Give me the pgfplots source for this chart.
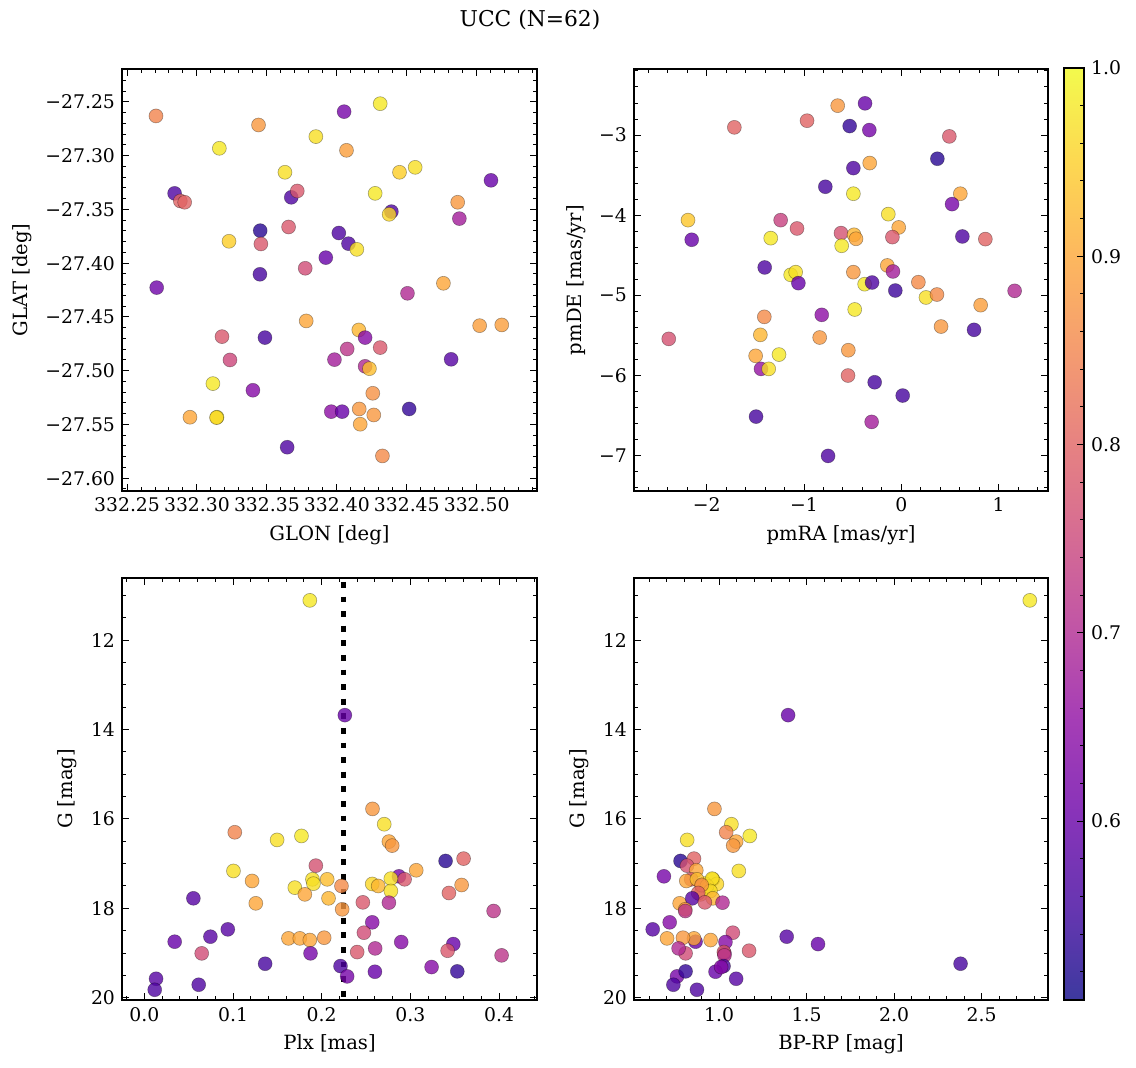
\documentclass[border=0pt]{standalone}
\usepackage{fontspec}
\setmainfont{DejaVu Serif}
\usepackage{pgfplots}
\usepackage{pgfplotstable}
\pgfplotsset{compat=1.18}

\pgfplotsset{
  colormap={plasma}{rgb255=(13,8,135) rgb255=(65,4,157) rgb255=(106,0,168) rgb255=(143,13,164) rgb255=(177,42,144) rgb255=(204,71,120) rgb255=(225,100,98) rgb255=(242,132,75) rgb255=(252,166,54) rgb255=(252,206,37) rgb255=(240,249,33)},
  colormap={plasmaA}{rgb255=(61,57,159) rgb255=(103,54,177) rgb255=(136,51,185) rgb255=(165,61,182) rgb255=(193,85,166) rgb255=(214,108,147) rgb255=(231,131,129) rgb255=(245,157,111) rgb255=(253,184,94) rgb255=(253,216,81) rgb255=(243,250,77)},
  panel/.style={scale only axis, width=207.5pt, height=211pt, anchor=south west,
    tick align=inside, xtick pos=both, ytick pos=both, xticklabel pos=lower, yticklabel pos=left,
    major tick length=3.5pt, minor tick length=2pt,
    axis line style={line width=0.6pt}, every tick/.style={black, line width=0.5pt},
    point meta min=0.505, point meta max=1, colormap name=plasma,
    tick label style={font=\fontsize{9.4}{11}\selectfont},
    label style={font=\fontsize{9.8}{11.5}\selectfont},
    clip=false},
  scat/.style={scatter, only marks, mark=*, mark size=3.5pt, scatter src=explicit,
    scatter/use mapped color={draw=black, fill=mapped color},
    mark options={line width=0.3pt, draw opacity=0.35, fill opacity=0.8}},
}

\pgfplotstableread{
x y p
332.2707 -27.2630 0.85
332.4052 -27.2590 0.62
332.4310 -27.2516 0.98
332.3440 -27.2714 0.88
332.3160 -27.2931 0.98
332.3850 -27.2822 0.97
332.4069 -27.2950 0.89
332.3629 -27.3154 0.97
332.4448 -27.3154 0.95
332.4560 -27.3108 0.97
332.5102 -27.3229 0.60
332.2840 -27.3350 0.57
332.2881 -27.3421 0.80
332.2912 -27.3433 0.80
332.3674 -27.3387 0.57
332.3717 -27.3328 0.78
332.4274 -27.3350 0.98
332.4390 -27.3520 0.57
332.4374 -27.3545 0.96
332.4864 -27.3433 0.88
332.4876 -27.3585 0.68
332.3452 -27.3697 0.53
332.3655 -27.3663 0.78
332.3229 -27.3796 0.95
332.3457 -27.3821 0.78
332.4014 -27.3719 0.57
332.4083 -27.3818 0.57
332.4143 -27.3871 0.97
332.3921 -27.3948 0.60
332.3774 -27.4047 0.76
332.3450 -27.4103 0.56
332.2712 -27.4227 0.61
332.4505 -27.4280 0.70
332.4762 -27.4187 0.90
332.3781 -27.4537 0.90
332.4157 -27.4621 0.92
332.4202 -27.4692 0.64
332.5021 -27.4581 0.89
332.5179 -27.4574 0.89
332.3179 -27.4683 0.78
332.3486 -27.4692 0.56
332.4074 -27.4798 0.72
332.4310 -27.4785 0.78
332.3236 -27.4900 0.75
332.3983 -27.4897 0.68
332.4817 -27.4894 0.58
332.4202 -27.4959 0.70
332.4233 -27.4981 0.93
332.3114 -27.5120 0.98
332.3400 -27.5182 0.64
332.4257 -27.5210 0.87
332.2950 -27.5433 0.90
332.3143 -27.5433 0.99
332.3140 -27.5436 0.96
332.3960 -27.5381 0.65
332.4038 -27.5381 0.60
332.4160 -27.5356 0.88
332.4264 -27.5412 0.88
332.4517 -27.5356 0.54
332.4167 -27.5498 0.90
332.3645 -27.5712 0.57
332.4326 -27.5793 0.86
}\tabA

\pgfplotstableread{
x y p
-0.654 -2.633 0.88
-0.373 -2.604 0.60
-1.716 -2.904 0.80
-0.969 -2.821 0.80
-0.531 -2.888 0.54
-0.329 -2.938 0.62
0.493 -3.017 0.78
0.370 -3.296 0.53
-0.325 -3.350 0.90
-0.493 -3.413 0.57
-0.781 -3.646 0.56
-0.493 -3.733 0.98
0.606 -3.733 0.90
0.521 -3.863 0.62
-2.192 -4.063 0.94
-2.154 -4.308 0.60
-1.240 -4.063 0.74
-1.072 -4.167 0.78
-1.342 -4.288 0.98
-0.620 -4.225 0.77
-0.486 -4.246 0.92
-0.466 -4.296 0.90
-0.613 -4.383 0.98
-0.134 -3.988 0.97
-0.027 -4.154 0.90
-0.092 -4.275 0.78
0.627 -4.267 0.57
0.863 -4.300 0.80
-1.404 -4.654 0.57
-1.137 -4.746 0.98
-1.086 -4.713 0.97
-1.058 -4.850 0.60
-0.493 -4.713 0.88
-0.144 -4.629 0.90
-0.086 -4.704 0.68
-0.377 -4.863 0.98
-0.301 -4.842 0.57
-0.062 -4.942 0.55
0.175 -4.838 0.86
0.253 -5.029 0.97
0.366 -4.992 0.86
1.164 -4.946 0.70
0.815 -5.125 0.89
-0.479 -5.179 0.98
-0.818 -5.246 0.65
-1.408 -5.271 0.86
-2.390 -5.546 0.77
-1.449 -5.496 0.92
0.408 -5.392 0.88
0.747 -5.433 0.56
-0.839 -5.529 0.88
-1.497 -5.758 0.90
-1.257 -5.742 0.98
-0.545 -5.688 0.88
-1.442 -5.921 0.66
-1.363 -5.921 0.97
-0.548 -6.004 0.80
-0.274 -6.088 0.56
0.014 -6.254 0.56
-1.493 -6.517 0.56
-0.305 -6.583 0.68
-0.753 -7.008 0.57
}\tabB

\pgfplotstableread{
plx G bprp p
0.1866 11.112 2.776 0.98
0.2261 13.679 1.394 0.60
0.2573 15.776 0.973 0.88
0.2705 16.119 1.070 0.97
0.1020 16.299 1.040 0.85
0.1497 16.470 0.817 0.97
0.1772 16.381 1.175 0.98
0.2758 16.507 1.097 0.90
0.2795 16.597 1.080 0.88
0.3397 16.940 0.779 0.53
0.3600 16.888 0.856 0.80
0.1934 17.045 0.816 0.77
0.1005 17.164 1.112 0.97
0.3066 17.149 0.869 0.90
0.2871 17.284 0.684 0.62
0.2935 17.351 0.840 0.78
0.1215 17.388 0.812 0.90
0.1896 17.351 0.964 0.97
0.1907 17.448 0.918 0.97
0.2062 17.351 0.873 0.93
0.2223 17.500 0.900 0.86
0.1697 17.537 0.941 0.97
0.1810 17.687 0.894 0.90
0.2570 17.455 0.987 0.96
0.2637 17.500 0.930 0.92
0.2780 17.336 0.960 0.97
0.2780 17.612 0.950 0.97
0.3578 17.478 0.900 0.88
0.3435 17.657 0.880 0.80
0.2077 17.776 0.964 0.92
0.1257 17.888 0.774 0.90
0.0553 17.776 0.846 0.58
0.2464 17.866 0.918 0.78
0.2758 17.873 1.019 0.70
0.2231 18.022 0.806 0.88
0.3939 18.060 0.806 0.72
0.2570 18.313 0.717 0.64
0.2476 18.545 1.078 0.76
0.0941 18.470 0.620 0.58
0.0745 18.634 1.386 0.58
0.0342 18.746 0.865 0.60
0.1625 18.672 0.702 0.90
0.1753 18.672 0.856 0.90
0.1866 18.709 0.951 0.90
0.2028 18.657 0.793 0.88
0.2897 18.754 1.036 0.64
0.3484 18.799 1.565 0.60
0.0647 19.007 0.808 0.76
0.1874 19.007 1.030 0.62
0.2400 18.978 1.027 0.78
0.2603 18.896 0.768 0.70
0.3420 18.948 1.171 0.78
0.4029 19.052 1.030 0.72
0.1362 19.239 2.380 0.56
0.2212 19.291 1.025 0.57
0.2287 19.522 0.759 0.62
0.2600 19.418 0.979 0.60
0.3239 19.313 1.011 0.64
0.3529 19.410 0.808 0.54
0.0132 19.575 1.097 0.58
0.0613 19.709 0.738 0.57
0.0117 19.821 0.873 0.57
}\tabC

\begin{document}
\begin{tikzpicture}
\useasboundingbox (0,0) rectangle (568pt,534pt);
\node[font=\fontsize{10.9}{13}\selectfont] at (265pt,524pt) {UCC (N=62)};

% Panel 1
\begin{axis}[panel, at={(61pt,288.5pt)},
  xmin=332.2464, xmax=332.5431, ymin=-27.6119, ymax=-27.2193,
  xtick={332.25,332.30,332.35,332.40,332.45,332.50},
  xticklabels={332.25,332.30,332.35,332.40,332.45,332.50},
  ytick={-27.60,-27.55,-27.50,-27.45,-27.40,-27.35,-27.30,-27.25},
  yticklabels={−27.60,−27.55,−27.50,−27.45,−27.40,−27.35,−27.30,−27.25},
  minor xtick={332.26,332.27,332.28,332.29,332.31,332.32,332.33,332.34,332.36,332.37,332.38,332.39,332.41,332.42,332.43,332.44,332.46,332.47,332.48,332.49,332.51,332.52,332.53,332.54},
  minor ytick={-27.61,-27.59,-27.58,-27.57,-27.56,-27.54,-27.53,-27.52,-27.51,-27.49,-27.48,-27.47,-27.46,-27.44,-27.43,-27.42,-27.41,-27.39,-27.38,-27.37,-27.36,-27.34,-27.33,-27.32,-27.31,-27.29,-27.28,-27.27,-27.26,-27.24,-27.23,-27.22},
  xlabel={GLON [deg]}, ylabel={GLAT [deg]}]
\addplot[scat] table[x=x, y=y, meta=p] {\tabA};
\end{axis}

% Panel 2
\begin{axis}[panel, at={(317pt,288.5pt)}, width=207pt,
  xmin=-2.747, xmax=1.507, ymin=-7.446, ymax=-2.175,
  xtick={-2,-1,0,1}, xticklabels={−2,−1,0,1},
  ytick={-7,-6,-5,-4,-3}, yticklabels={−7,−6,−5,−4,−3},
  minor xtick={-2.6,-2.4,-2.2,-1.8,-1.6,-1.4,-1.2,-0.8,-0.6,-0.4,-0.2,0.2,0.4,0.6,0.8,1.2,1.4},
  minor ytick={-7.4,-7.2,-6.8,-6.6,-6.4,-6.2,-5.8,-5.6,-5.4,-5.2,-4.8,-4.6,-4.4,-4.2,-3.8,-3.6,-3.4,-3.2,-2.8,-2.6,-2.4,-2.2},
  xlabel={pmRA [mas/yr]}, ylabel={pmDE [mas/yr]}]
\addplot[scat] table[x=x, y=y, meta=p] {\tabB};
\end{axis}

% Panel 3
\begin{axis}[panel, at={(61pt,34pt)},
  xmin=-0.0252, xmax=0.4428, ymin=10.612, ymax=20.05, y dir=reverse,
  xtick={0,0.1,0.2,0.3,0.4}, xticklabels={0.0,0.1,0.2,0.3,0.4},
  ytick={12,14,16,18,20}, yticklabels={12,14,16,18,20},
  minor xtick={-0.02,0.02,0.04,0.06,0.08,0.12,0.14,0.16,0.18,0.22,0.24,0.26,0.28,0.32,0.34,0.36,0.38,0.42,0.44},
  minor ytick={11,11.5,12.5,13,13.5,14.5,15,15.5,16.5,17,17.5,18.5,19,19.5},
  xlabel={Plx [mas]}, ylabel={G [mag]}]
\addplot[scat] table[x=plx, y=G, meta=p] {\tabC};
\addplot[black, line width=2.9pt, dash pattern=on 2.9pt off 4.4pt] coordinates {(0.2246,10.7) (0.2246,20.05)};
\end{axis}

% Panel 4
\begin{axis}[panel, at={(317pt,34pt)}, width=207pt,
  xmin=0.513, xmax=2.880, ymin=10.612, ymax=20.05, y dir=reverse,
  xtick={1,1.5,2,2.5}, xticklabels={1.0,1.5,2.0,2.5},
  ytick={12,14,16,18,20}, yticklabels={12,14,16,18,20},
  minor xtick={0.6,0.7,0.8,0.9,1.1,1.2,1.3,1.4,1.6,1.7,1.8,1.9,2.1,2.2,2.3,2.4,2.6,2.7,2.8},
  minor ytick={11,11.5,12.5,13,13.5,14.5,15,15.5,16.5,17,17.5,18.5,19,19.5},
  xlabel={BP-RP [mag]}, ylabel={G [mag]}]
\addplot[scat] table[x=bprp, y=G, meta=p] {\tabC};
\end{axis}

% Colorbar
\begin{axis}[at={(532pt,34pt)}, anchor=south west, scale only axis, width=10pt, height=466pt,
  xmin=0, xmax=1, ymin=0.505, ymax=1, xtick=\empty,
  ytick={0.6,0.7,0.8,0.9,1.0}, yticklabels={0.6,0.7,0.8,0.9,1.0},
  minor ytick={0.52,0.54,0.56,0.58,0.62,0.64,0.66,0.68,0.72,0.74,0.76,0.78,0.82,0.84,0.86,0.88,0.92,0.94,0.96,0.98},
  ytick pos=right, yticklabel pos=right, tick align=inside, axis on top,
  major tick length=3.5pt, minor tick length=2pt,
  axis line style={line width=0.6pt}, every tick/.style={black, line width=0.5pt},
  tick label style={font=\fontsize{9.4}{11}\selectfont},
  colormap name=plasmaA, point meta min=0.505, point meta max=1]
\addplot[surf, shader=interp, mesh/rows=2, point meta=y] coordinates {(0,0.505) (1,0.505) (0,1) (1,1)};
\end{axis}
\end{tikzpicture}
\end{document}
